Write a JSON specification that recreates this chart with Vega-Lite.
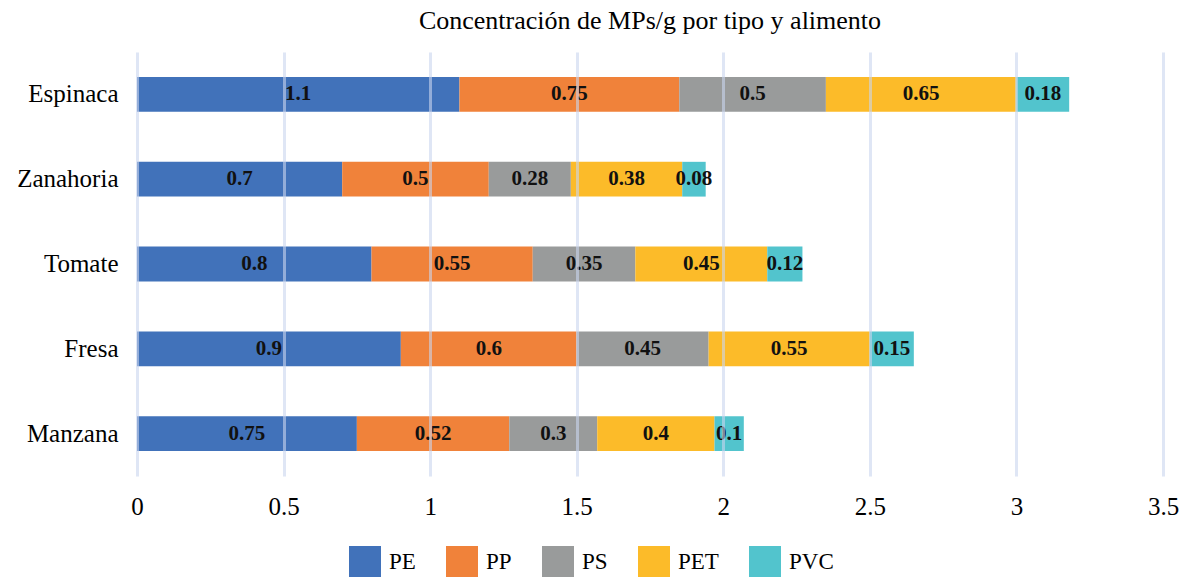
{
  "$schema": "https://vega.github.io/schema/vega-lite/v6.json",
  "width": 1026,
  "height": 424,
  "padding": {"left": 16, "top": 8, "right": 15, "bottom": 0},
  "background": "white",
  "title": {
    "text": "Concentración de MPs/g por tipo y alimento",
    "font": "Liberation Serif",
    "fontSize": 26,
    "fontWeight": "normal",
    "color": "#000000",
    "anchor": "middle",
    "offset": 18
  },
  "data": {
    "values": [
      {"alimento": "Espinaca", "tipo": "PE", "orden": 1, "valor": 1.1},
      {"alimento": "Espinaca", "tipo": "PP", "orden": 2, "valor": 0.75},
      {"alimento": "Espinaca", "tipo": "PS", "orden": 3, "valor": 0.5},
      {"alimento": "Espinaca", "tipo": "PET", "orden": 4, "valor": 0.65},
      {"alimento": "Espinaca", "tipo": "PVC", "orden": 5, "valor": 0.18},
      {"alimento": "Zanahoria", "tipo": "PE", "orden": 1, "valor": 0.7},
      {"alimento": "Zanahoria", "tipo": "PP", "orden": 2, "valor": 0.5},
      {"alimento": "Zanahoria", "tipo": "PS", "orden": 3, "valor": 0.28},
      {"alimento": "Zanahoria", "tipo": "PET", "orden": 4, "valor": 0.38},
      {"alimento": "Zanahoria", "tipo": "PVC", "orden": 5, "valor": 0.08},
      {"alimento": "Tomate", "tipo": "PE", "orden": 1, "valor": 0.8},
      {"alimento": "Tomate", "tipo": "PP", "orden": 2, "valor": 0.55},
      {"alimento": "Tomate", "tipo": "PS", "orden": 3, "valor": 0.35},
      {"alimento": "Tomate", "tipo": "PET", "orden": 4, "valor": 0.45},
      {"alimento": "Tomate", "tipo": "PVC", "orden": 5, "valor": 0.12},
      {"alimento": "Fresa", "tipo": "PE", "orden": 1, "valor": 0.9},
      {"alimento": "Fresa", "tipo": "PP", "orden": 2, "valor": 0.6},
      {"alimento": "Fresa", "tipo": "PS", "orden": 3, "valor": 0.45},
      {"alimento": "Fresa", "tipo": "PET", "orden": 4, "valor": 0.55},
      {"alimento": "Fresa", "tipo": "PVC", "orden": 5, "valor": 0.15},
      {"alimento": "Manzana", "tipo": "PE", "orden": 1, "valor": 0.75},
      {"alimento": "Manzana", "tipo": "PP", "orden": 2, "valor": 0.52},
      {"alimento": "Manzana", "tipo": "PS", "orden": 3, "valor": 0.3},
      {"alimento": "Manzana", "tipo": "PET", "orden": 4, "valor": 0.4},
      {"alimento": "Manzana", "tipo": "PVC", "orden": 5, "valor": 0.1}
    ]
  },
  "transform": [
    {"stack": "valor", "groupby": ["alimento"], "sort": [{"field": "orden", "order": "ascending"}], "as": ["x0", "x1"]},
    {"calculate": "(datum.x0 + datum.x1) / 2", "as": "xm"}
  ],
  "encoding": {
    "y": {
      "field": "alimento",
      "type": "nominal",
      "sort": ["Espinaca", "Zanahoria", "Tomate", "Fresa", "Manzana"],
      "scale": {"paddingInner": 0.59, "paddingOuter": 0.295},
      "axis": {
        "title": null,
        "domain": false,
        "ticks": false,
        "labelFont": "Liberation Serif",
        "labelFontSize": 25,
        "labelColor": "#000000",
        "labelPadding": 19
      }
    }
  },
  "layer": [
    {
      "mark": {"type": "bar"},
      "encoding": {
        "x": {
          "field": "x0",
          "type": "quantitative",
          "scale": {"domain": [0, 3.5], "nice": false},
          "axis": {
            "title": null,
            "values": [0, 0.5, 1, 1.5, 2, 2.5, 3, 3.5],
            "format": "~g",
            "domain": false,
            "ticks": false,
            "grid": true,
            "gridColor": "#C9D6EE",
            "gridWidth": 3,
            "gridOpacity": 0.6,
            "zindex": 1,
            "labelFont": "Liberation Serif",
            "labelFontSize": 25,
            "labelColor": "#000000",
            "labelPadding": 18,
            "labelFlush": false
          }
        },
        "x2": {"field": "x1"},
        "color": {
          "field": "tipo",
          "type": "nominal",
          "scale": {
            "domain": ["PE", "PP", "PS", "PET", "PVC"],
            "range": ["#4172BA", "#F0823A", "#999B9B", "#FCBB29", "#52C4CD"]
          },
          "legend": {
            "title": null,
            "orient": "none",
            "legendX": 212,
            "legendY": 494,
            "direction": "horizontal",
            "symbolType": "square",
            "symbolSize": 1024,
            "symbolStrokeWidth": 0,
            "labelFont": "Liberation Serif",
            "labelFontSize": 23,
            "labelColor": "#000000",
            "labelOffset": 8,
            "columnPadding": 30
          }
        }
      }
    },
    {
      "mark": {
        "type": "text",
        "font": "Liberation Serif",
        "fontWeight": "bold",
        "fontSize": 21,
        "color": "#111111",
        "align": "center",
        "baseline": "middle"
      },
      "encoding": {
        "x": {"field": "xm", "type": "quantitative"},
        "text": {"field": "valor", "type": "quantitative"}
      }
    }
  ],
  "config": {"view": {"stroke": null}}
}
